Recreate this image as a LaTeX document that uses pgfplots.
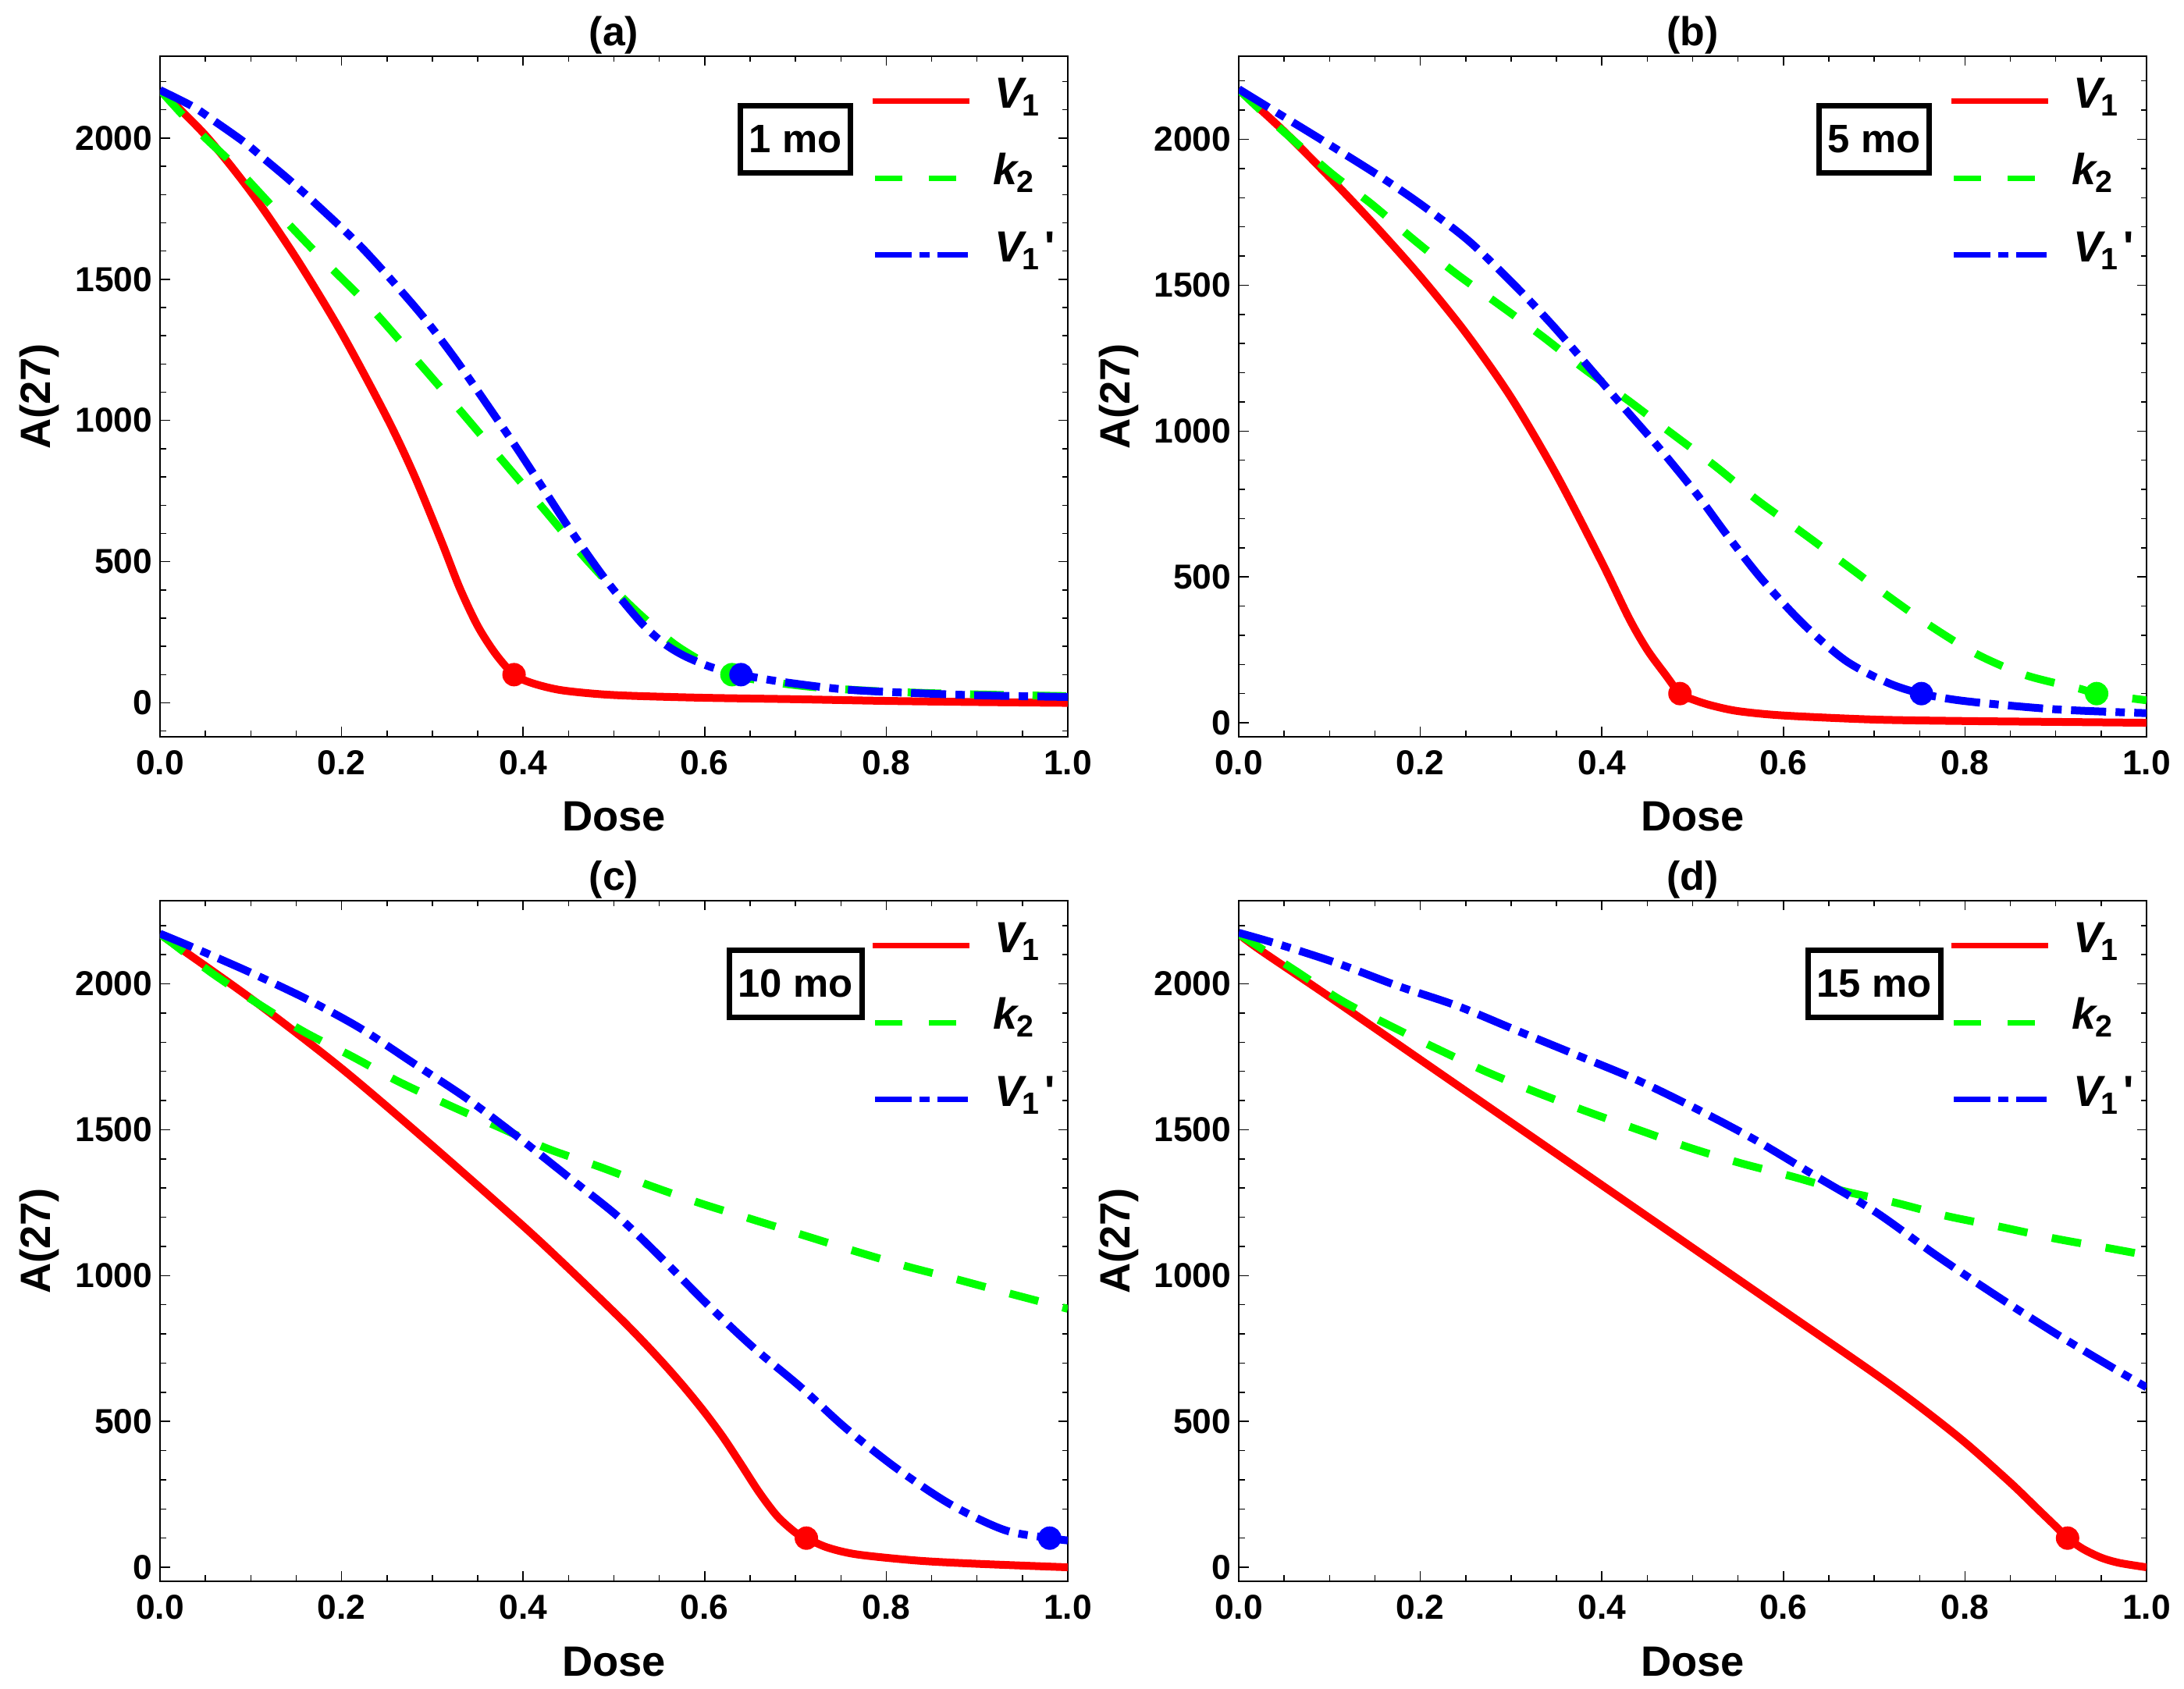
\documentclass[border=0pt]{standalone}
\usepackage{fontspec}
\setmainfont{Liberation Sans}
\usepackage{pgfplots}
\pgfplotsset{compat=1.18}
\definecolor{cR}{RGB}{255,0,0}
\definecolor{cG}{RGB}{0,255,0}
\definecolor{cB}{RGB}{0,0,255}
\newcommand\tickf{\fontsize{8.9}{10}\selectfont\bfseries}
\newcommand\labf{\fontsize{10.9}{12}\selectfont\bfseries}
\newcommand\titf{\fontsize{10.4}{12}\selectfont\bfseries}
\newcommand\boxf{\fontsize{10.2}{12}\selectfont\bfseries}
\newcommand\legf{\fontsize{11.2}{12}\selectfont\bfseries\itshape}
\newcommand\subf{\fontsize{7.9}{9}\selectfont\bfseries\upshape}
\newcommand\lVone{{\legf V}\kern-0.6bp\raisebox{-2bp}{\subf 1}}
\newcommand\lktwo{{\legf k}\kern-0.3bp\raisebox{-2bp}{\subf 2}}
\newcommand\lVonep{{\legf V}\kern-0.6bp\raisebox{-2bp}{\subf 1}\kern1.6bp{\fontsize{11.2}{12}\selectfont\bfseries\upshape\textquotesingle}}
\newcommand\mylegend{%
  \draw[cR, line width=1.4bp] (rel axis cs:0.785,0.9335) -- (rel axis cs:0.892,0.9335);
  \node[anchor=base west, inner sep=0pt] at ([yshift=-1.7bp]rel axis cs:0.919,0.9335) {\lVone};
  \draw[cG, line width=1.4bp, dash pattern=on 7bp off 6.8bp] (rel axis cs:0.788,0.821) -- (rel axis cs:0.877,0.821);
  \node[anchor=base west, inner sep=0pt] at ([yshift=-1.7bp]rel axis cs:0.917,0.821) {\lktwo};
  \draw[cB, line width=1.4bp, dash pattern=on 9.4bp off 2bp on 2.6bp off 2bp] (rel axis cs:0.788,0.708) -- (rel axis cs:0.890,0.708);
  \node[anchor=base west, inner sep=0pt] at ([yshift=-1.7bp]rel axis cs:0.919,0.708) {\lVonep};
}
\newcommand\mobox[1]{\node[draw=black, line width=1.4bp, inner xsep=2.3bp, inner ysep=0pt, minimum height=17.2bp, font=\boxf] at (rel axis cs:0.70,0.878) {#1};}
\pgfplotsset{
  panel/.style={
    scale only axis, width=232.6bp, height=174.4bp,
    xmin=0, xmax=1,
    xtick={0,0.2,0.4,0.6,0.8,1},
    minor xtick={0.05,0.1,0.15,0.25,0.3,0.35,0.45,0.5,0.55,0.65,0.7,0.75,0.85,0.9,0.95},
    ytick={0,500,1000,1500,2000},
    minor ytick={-100,100,200,300,400,600,700,800,900,1100,1200,1300,1400,1600,1700,1800,1900,2100,2200},
    tick align=inside,
    major tick length=2.5bp, minor tick length=1.5bp,
    every tick/.append style={line width=0.3bp, black},
    axis line style={line width=0.4bp, black},
    /pgf/number format/assume math mode=true,
    ticklabel style={font=\tickf},
    x tick label style={/pgf/number format/.cd, fixed, fixed zerofill, precision=1, /tikz/.cd, inner sep=0pt, anchor=north, yshift=-3.4bp},
    y tick label style={/pgf/number format/.cd, fixed, 1000 sep={}, /tikz/.cd, inner sep=0pt, anchor=east, xshift=-1.8bp},
    scaled ticks=false,
    xlabel={Dose}, ylabel={A(27)},
    x label style={at={(axis description cs:0.5,0)}, anchor=base, yshift=-24.2bp, inner sep=0pt, font=\labf},
    y label style={at={([xshift=-28bp]axis description cs:0,0.5)}, anchor=base, inner sep=0pt, font=\labf},
    every axis title/.style={at={(axis description cs:0.5,1)}, anchor=base, yshift=2.6bp, inner sep=0pt, font=\titf},
  },
  cV/.style={cR, line width=2bp, smooth},
  ck/.style={cG, line width=2bp, smooth, dash pattern=on 7.6bp off 6.4bp},
  cVp/.style={cB, line width=2bp, smooth, dash pattern=on 9bp off 2.4bp on 2.4bp off 2.4bp},
  dotR/.style={only marks, mark=*, mark size=2.8bp, cR},
  dotG/.style={only marks, mark=*, mark size=2.8bp, cG},
  dotB/.style={only marks, mark=*, mark size=2.8bp, cB},
}
\begin{document}
\begin{tikzpicture}
\path[use as bounding box] (0,0) rectangle (559.6bp,432.8bp);
% ---------------- (a) 1 mo
\begin{axis}[panel, at={(41bp,244bp)}, anchor=south west, ymin=-120, ymax=2290, title={(a)}]
\addplot[cV] coordinates {(0,2170)(0.05,2010)(0.1,1810)(0.15,1575)(0.2,1310)(0.25,1010)(0.28,806)(0.31,572)(0.33,408)(0.35,272)(0.37,172)(0.39,100)(0.41,70)(0.44,46)(0.48,32)(0.52,25)(0.6,18)(0.7,13)(0.8,7)(0.9,3)(1.0,0)};
\addplot[ck, dash pattern=on 8.6bp off 7.4bp] coordinates {(0,2170)(0.024,2085)(0.05,2000)(0.082,1902)(0.136,1715)(0.177,1577)(0.231,1403)(0.284,1209)(0.331,1034)(0.377,859)(0.423,685)(0.469,510)(0.515,355)(0.561,222)(0.59,160)(0.612,122)(0.63,100)(0.66,80)(0.72,56)(0.8,40)(0.9,30)(1.0,24)};
\addplot[cVp] coordinates {(0,2170)(0.036,2112)(0.06,2060)(0.093,1985)(0.115,1926)(0.142,1853)(0.169,1775)(0.223,1610)(0.284,1390)(0.323,1228)(0.361,1053)(0.392,907)(0.423,755)(0.453,608)(0.492,432)(0.530,284)(0.555,211)(0.576,169)(0.60,135)(0.62,114)(0.64,100)(0.68,77)(0.746,50)(0.8,39)(0.899,27)(1.0,21)};
\addplot[dotR] coordinates {(0.39,100)};
\addplot[dotG] coordinates {(0.63,100)};
\addplot[dotB] coordinates {(0.64,100)};
\mobox{1 mo}
\mylegend
\end{axis}
% ---------------- (b) 5 mo
\begin{axis}[panel, at={(317.4bp,244bp)}, anchor=south west, ymin=-48, ymax=2285, title={(b)}]
\addplot[cV] coordinates {(0,2170)(0.05,2027)(0.1,1870)(0.15,1705)(0.2,1530)(0.25,1337)(0.3,1115)(0.35,850)(0.4,550)(0.43,358)(0.45,250)(0.47,165)(0.486,100)(0.5,80)(0.52,60)(0.55,40)(0.6,25)(0.7,11)(0.8,6)(0.9,3)(1.0,0)};
\addplot[ck] coordinates {(0,2170)(0.017,2120)(0.0435,2043)(0.101,1886)(0.146,1779)(0.192,1658)(0.238,1543)(0.286,1435)(0.333,1328)(0.381,1212)(0.429,1105)(0.476,994)(0.524,882)(0.570,766)(0.618,658)(0.666,548)(0.715,435)(0.762,332)(0.813,235)(0.867,163)(0.926,117)(0.945,100)(1.0,77)};
\addplot[cVp] coordinates {(0,2172)(0.0435,2089)(0.096,1989)(0.155,1874)(0.202,1774)(0.254,1650)(0.307,1490)(0.347,1358)(0.386,1218)(0.426,1074)(0.465,935)(0.505,782)(0.538,643)(0.577,489)(0.623,335)(0.669,212)(0.715,137)(0.752,100)(0.801,74)(0.900,46)(1.0,33)};
\addplot[dotR] coordinates {(0.486,100)};
\addplot[dotB] coordinates {(0.752,100)};
\addplot[dotG] coordinates {(0.945,100)};
\mobox{5 mo}
\mylegend
\end{axis}
% ---------------- (c) 10 mo
\begin{axis}[panel, at={(41bp,27.6bp)}, anchor=south west, ymin=-48, ymax=2285, title={(c)}]
\addplot[cV] coordinates {(0,2170)(0.1,1950)(0.2,1710)(0.3,1445)(0.4,1170)(0.45,1025)(0.5,875)(0.52,813)(0.54,748)(0.56,680)(0.58,608)(0.6,531)(0.62,447)(0.64,353)(0.66,257)(0.68,175)(0.70,119)(0.712,100)(0.735,68)(0.768,44)(0.834,23)(0.9,12)(1.0,0)};
\addplot[ck] coordinates {(0,2170)(0.012,2143)(0.058,2035)(0.108,1932)(0.159,1835)(0.211,1752)(0.262,1666)(0.319,1583)(0.373,1509)(0.427,1435)(0.484,1373)(0.539,1309)(0.596,1247)(0.651,1194)(0.707,1140)(0.763,1086)(0.822,1032)(0.879,986)(0.934,940)(1.0,886)};
\addplot[cVp] coordinates {(0,2172)(0.037,2124)(0.0995,2039)(0.162,1947)(0.221,1847)(0.281,1724)(0.337,1609)(0.393,1478)(0.449,1340)(0.505,1201)(0.554,1055)(0.603,901)(0.653,755)(0.706,617)(0.755,478)(0.811,340)(0.870,217)(0.930,128)(0.98,100)(1.0,92)};
\addplot[dotR] coordinates {(0.712,100)};
\addplot[dotB] coordinates {(0.98,100)};
\mobox{10 mo}
\mylegend
\end{axis}
% ---------------- (d) 15 mo
\begin{axis}[panel, at={(317.4bp,27.6bp)}, anchor=south west, ymin=-48, ymax=2285, title={(d)}]
\addplot[cV] coordinates {(0,2170)(0.024,2115)(0.1,1955)(0.2,1740)(0.3,1525)(0.4,1310)(0.5,1095)(0.6,880)(0.7,665)(0.75,551)(0.8,428)(0.85,290)(0.88,200)(0.9,140)(0.913,100)(0.93,63)(0.95,33)(0.97,15)(1.0,0)};
\addplot[ck] coordinates {(0,2170)(0.012,2147)(0.060,2050)(0.113,1943)(0.165,1859)(0.218,1778)(0.271,1701)(0.327,1629)(0.383,1563)(0.439,1501)(0.495,1440)(0.552,1386)(0.609,1340)(0.666,1290)(0.723,1250)(0.780,1204)(0.839,1167)(0.899,1127)(0.958,1094)(1.0,1070)};
\addplot[cVp] coordinates {(0,2175)(0.0435,2136)(0.109,2070)(0.175,1993)(0.241,1924)(0.307,1839)(0.373,1755)(0.439,1670)(0.505,1570)(0.570,1463)(0.636,1340)(0.702,1217)(0.768,1070)(0.834,932)(0.900,801)(0.966,678)(1.0,617)};
\addplot[dotR] coordinates {(0.913,100)};
\mobox{15 mo}
\mylegend
\end{axis}
\end{tikzpicture}
\end{document}
